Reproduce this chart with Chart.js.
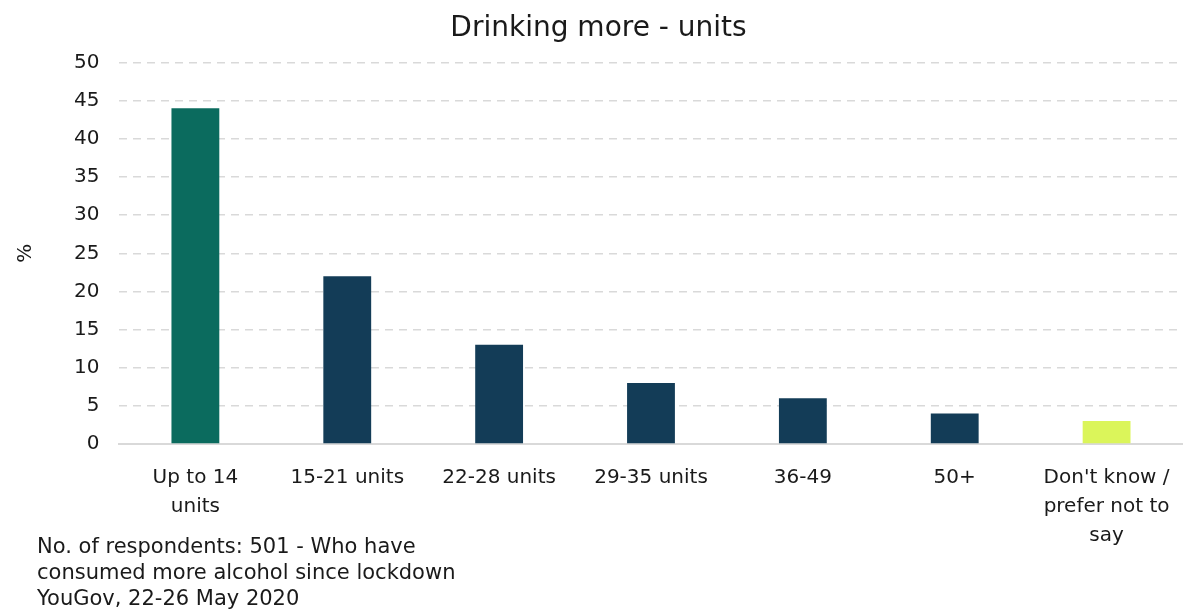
<!DOCTYPE html>
<html>
<head>
<meta charset="utf-8">
<script src="https://cdn.jsdelivr.net/npm/chart.js@4"></script>
<style>
  html, body { margin: 0; padding: 0; background: #fff; }
  #wrap { width: 1189px; height: 613px; position: relative; }
</style>
</head>
<body>
<div id="wrap"><canvas id="chart" width="1189" height="613"></canvas></div>
<script>
  var FONT = '"DejaVu Sans", Lato, sans-serif';

  var categories = [
    ['Up to 14', 'units'],
    '15-21 units',
    '22-28 units',
    '29-35 units',
    '36-49',
    '50+',
    ["Don't know /", 'prefer not to', 'say']
  ];
  var values = [44, 22, 13, 8, 6, 4, 3];
  var barColors = ['#0b6b5e', '#133c57', '#133c57', '#133c57', '#133c57', '#133c57', '#dbf55a'];
  var yTicks = [0, 5, 10, 15, 20, 25, 30, 35, 40, 45, 50];
  var footnote = [
    'No. of respondents: 501 - Who have',
    'consumed more alcohol since lockdown',
    'YouGov, 22-26 May 2020'
  ];

  // footnote drawn under the axis, left aligned
  var footnotePlugin = {
    id: 'footnote',
    afterDraw: function (chart) {
      var ctx = chart.ctx;
      ctx.save();
      ctx.font = '21px ' + FONT;
      ctx.fillStyle = '#1a1a1a';
      ctx.textBaseline = 'middle';
      ctx.textAlign = 'left';
      footnote.forEach(function (line, i) {
        ctx.fillText(line, 37, 548 + i * 26);
      });
      ctx.restore();
    }
  };

  new Chart(document.getElementById('chart'), {
    type: 'bar',
    data: {
      labels: categories,
      datasets: [{
        data: values,
        backgroundColor: barColors,
        borderWidth: 0,
        barPercentage: 0.63,
        categoryPercentage: 0.5
      }]
    },
    options: {
      responsive: false,
      animation: false,
      layout: { padding: { left: 14, right: 6, top: 12, bottom: 44 } },
      plugins: {
        legend: { display: false },
        tooltip: { enabled: false },
        title: {
          display: true,
          text: 'Drinking more - units',
          color: '#1a1a1a',
          font: { family: FONT, size: 28, weight: 'normal' },
          padding: { top: 0, bottom: 17 }
        }
      },
      scales: {
        x: {
          grid: { display: false, drawTicks: false },
          border: { display: true, color: '#d9d9d9', width: 2 },
          ticks: {
            color: '#1a1a1a',
            font: { family: FONT, size: 20, lineHeight: 1.45 },
            padding: 19,
            maxRotation: 0,
            autoSkip: false
          }
        },
        y: {
          min: 0,
          max: 50,
          afterBuildTicks: function (axis) {
            axis.ticks = yTicks.map(function (v) { return { value: v }; });
          },
          grid: {
            color: '#d9d9d9',
            lineWidth: 1.5,
            drawTicks: false
          },
          border: { display: false, dash: [8, 6] },
          ticks: {
            color: '#1a1a1a',
            font: { family: FONT, size: 20 },
            padding: 20
          },
          title: {
            display: true,
            text: '%',
            color: '#1a1a1a',
            font: { family: FONT, size: 20 },
            padding: { top: 0, bottom: 16 }
          }
        }
      }
    },
    plugins: [footnotePlugin]
  });
</script>
</body>
</html>
